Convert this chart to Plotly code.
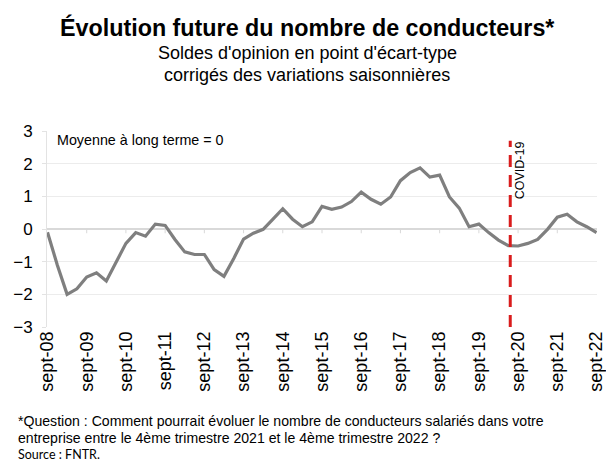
import plotly.graph_objects as go

# ---- data ----
years = ["08", "09", "10", "11", "12", "13", "14", "15", "16", "17", "18", "19", "20", "21", "22"]
tick_labels = ["sept-" + y for y in years]
quarters_per_year = 4
values = [-0.1, -1.1, -2.0, -1.83, -1.47, -1.34, -1.59, -1.0, -0.44, -0.11,
          -0.22, 0.15, 0.11, -0.32, -0.7, -0.78, -0.78, -1.24, -1.45, -0.9,
          -0.31, -0.13, -0.01, 0.3, 0.62, 0.3, 0.07, 0.22, 0.69, 0.6,
          0.67, 0.84, 1.13, 0.91, 0.76, 0.98, 1.48, 1.73, 1.87, 1.59,
          1.65, 0.98, 0.64, 0.07, 0.15, -0.11, -0.34, -0.51, -0.52, -0.44,
          -0.32, -0.01, 0.36, 0.45, 0.22, 0.07, -0.11]
covid_position = 47.2   # quarter index of COVID-19 marker
covid_top = 2.7
y_ticks = [-3, -2, -1, 0, 1, 2, 3]

x = list(range(len(values)))
tick_positions = [i * quarters_per_year for i in range(len(tick_labels))]

W, H = 606, 461
L, R, T, B = 47, 9, 131, 134
PW, PH = W - L - R, H - T - B

def px(xp):
    return (xp - L) / PW

def py(yp):
    return (H - B - yp) / PH

ARIAL = "Liberation Sans, Arial, sans-serif"

fig = go.Figure()

fig.add_trace(go.Scatter(
    x=x, y=values, mode="lines",
    line=dict(color="#7f7f7f", width=3.2),
    hoverinfo="skip", showlegend=False,
))

# COVID marker
fig.add_trace(go.Scatter(
    x=[covid_position, covid_position], y=[min(y_ticks), covid_top],
    mode="lines", line=dict(color="#d91c1c", width=3, dash="12px,8px"),
    hoverinfo="skip", showlegend=False,
))

shapes = []
# small tick marks on the zero axis
for tp in tick_positions[1:-1]:
    shapes.append(dict(type="line", xref="x", yref="y", x0=tp, x1=tp, y0=0, y1=-0.13,
                       line=dict(color="#d9d9d9", width=1)))

fig.update_layout(
    width=W, height=H,
    margin=dict(l=L, r=R, t=T, b=B),
    paper_bgcolor="white", plot_bgcolor="white",
    shapes=shapes,
    xaxis=dict(
        range=[-0.05, len(values) - 1 + 0.05],
        tickmode="array", tickvals=tick_positions, ticktext=tick_labels,
        tickangle=-90, tickfont=dict(family=ARIAL, size=18, color="#000000"),
        showgrid=False, zeroline=False, showline=False, ticks="",
        ticklabeloverflow="allow", automargin=False,
    ),
    yaxis=dict(
        range=[-3, 3], tickmode="array", tickvals=y_ticks,
        tickfont=dict(family=ARIAL, size=17, color="#000000"),
        showgrid=True, gridcolor="#ececec", gridwidth=1,
        zeroline=True, zerolinecolor="#d9d9d9", zerolinewidth=1.5,
        showline=True, linecolor="#e3e3e3", linewidth=1,
        ticks="outside", ticklen=4, tickcolor="#e3e3e3",
        ticklabelstandoff=6, automargin=False,
    ),
    annotations=[
        dict(text="<b>Évolution future du nombre de conducteurs*</b>",
             xref="paper", yref="paper", x=px(307), y=py(27),
             xanchor="center", yanchor="middle", showarrow=False,
             font=dict(family=ARIAL, size=23.3, color="#000000")),
        dict(text="Soldes d'opinion en point d'écart-type",
             xref="paper", yref="paper", x=px(307), y=py(53),
             xanchor="center", yanchor="middle", showarrow=False,
             font=dict(family=ARIAL, size=18, color="#000000")),
        dict(text="corrigés des variations saisonnières",
             xref="paper", yref="paper", x=px(307), y=py(75),
             xanchor="center", yanchor="middle", showarrow=False,
             font=dict(family=ARIAL, size=18, color="#000000")),
        dict(text="Moyenne à long terme = 0",
             xref="paper", yref="paper", x=px(55), y=py(140),
             xanchor="left", yanchor="middle", showarrow=False,
             font=dict(family=ARIAL, size=14.3, color="#000000")),
        dict(text="COVID-19",
             xref="x", yref="paper", x=covid_position, xshift=10, y=py(139),
             xanchor="center", yanchor="top", textangle=-90, showarrow=False,
             font=dict(family=ARIAL, size=12.5, color="#000000")),
        dict(text="*Question : Comment pourrait évoluer le nombre de conducteurs salariés dans votre",
             xref="paper", yref="paper", x=px(16), y=py(421),
             xanchor="left", yanchor="middle", showarrow=False,
             font=dict(family=ARIAL, size=14.1, color="#000000")),
        dict(text="entreprise entre le 4ème trimestre 2021 et le 4ème trimestre 2022 ?",
             xref="paper", yref="paper", x=px(16), y=py(438),
             xanchor="left", yanchor="middle", showarrow=False,
             font=dict(family=ARIAL, size=14.1, color="#000000")),
        dict(text="Source : FNTR.",
             xref="paper", yref="paper", x=px(16), y=py(454),
             xanchor="left", yanchor="middle", showarrow=False,
             font=dict(family="Lato, Open Sans, sans-serif", size=12.5, color="#000000")),
    ],
)

fig.write_html("out.html", config={"displayModeBar": False},
               post_script="document.body.style.margin='0';document.body.style.overflow='hidden';")
